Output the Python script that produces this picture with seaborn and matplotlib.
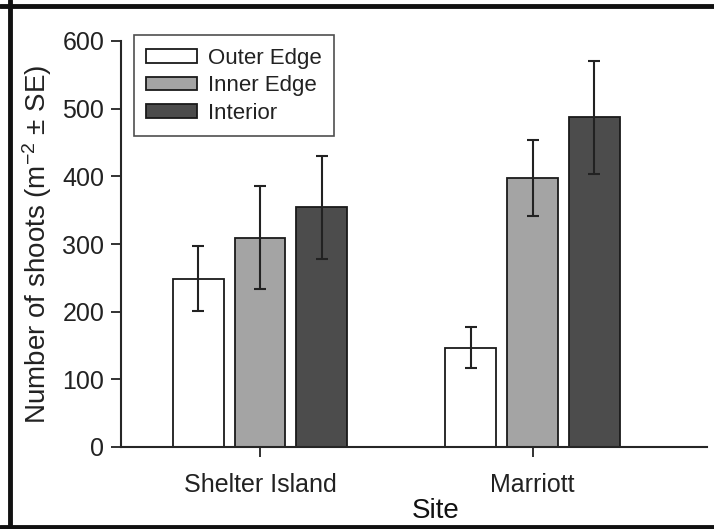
import numpy as np
import pandas as pd

import matplotlib
matplotlib.use('Agg')
import matplotlib.pyplot as plt
import seaborn as sns
from matplotlib.patches import Patch

sites = ['Shelter Island', 'Marriott']
zones = ['Outer Edge', 'Inner Edge', 'Interior']

outer_edge = [249, 147]
inner_edge = [309, 398]
interior = [354, 487]

outer_se = [48, 30]
inner_se = [76, 56]
interior_se = [76, 83]

zone_colors = ['#ffffff', '#a4a4a4', '#4c4c4c']

sns.set_style('ticks')
plt.rcParams['font.family'] = ['Liberation Sans', 'DejaVu Sans']
plt.rcParams['mathtext.fontset'] = 'custom'
plt.rcParams['mathtext.rm'] = 'Liberation Sans'
plt.rcParams['mathtext.it'] = 'Liberation Sans'

rows = []
for i, site in enumerate(sites):
	for zone, vals, ses in zip(zones, [outer_edge, inner_edge, interior], [outer_se, inner_se, interior_se]):
		rows.append([site, zone, vals[i], ses[i]])
df = pd.DataFrame(rows, columns=['Site', 'Zone', 'Shoots', 'SE'])

fig = plt.figure(figsize=(7.14, 5.29), dpi=100)
ax = fig.add_axes([121/714, (529-447)/529, (707-121)/714, (447-41)/529])

sns.barplot(
	data=df, x='Site', y='Shoots', hue='Zone',
	order=sites, hue_order=zones,
	palette=zone_colors, width=0.68, gap=0.18,
	edgecolor='#1a1a1a', linewidth=1.3,
	errorbar=None, legend=False, ax=ax,
)

# error bars on top of each bar
for zone, container in zip(zones, ax.containers):
	sub = df[df['Zone'] == zone].set_index('Site').loc[sites]
	xs = [b.get_x() + b.get_width() / 2 for b in container]
	ax.errorbar(xs, sub['Shoots'], yerr=sub['SE'], fmt='none',
		ecolor='#222222', elinewidth=1.5, capsize=4.5, capthick=1.5, zorder=5)

ax.set_ylim(0, 600)
ax.set_xlim(-0.51, 1.64)
ax.set_yticks(np.arange(0, 601, 100))
ax.tick_params(axis='both', labelsize=18, colors='#222222', length=7, width=1.3)
ax.tick_params(axis='x', pad=12)
ax.tick_params(axis='y', pad=5)
for lab in ax.get_xticklabels() + ax.get_yticklabels():
	lab.set_color('#222222')

ax.set_xlabel('Site', fontsize=20, color='#111111')
ax.xaxis.set_label_coords(0.5375, -0.125)
ax.set_ylabel(r'Number of shoots (m$^{-2}$ $\pm$ SE)', fontsize=20, color='#222222', labelpad=6)

sns.despine(ax=ax)
ax.spines['left'].set_linewidth(1.5)
ax.spines['bottom'].set_linewidth(1.5)

handles = [Patch(facecolor=c, edgecolor='#1a1a1a', linewidth=1.3) for c in zone_colors]
leg = ax.legend(handles, zones, loc='upper left', bbox_to_anchor=(0.01, 1.03),
	fontsize=16, frameon=True, fancybox=False, edgecolor='#222222',
	handlelength=2.3, handleheight=0.55, handletextpad=0.5, labelspacing=0.3,
	borderpad=0.55, borderaxespad=0.3)
leg.get_frame().set_linewidth(1.2)
for t in leg.get_texts():
	t.set_color('#222222')

# outer frame of the figure
fig.add_artist(plt.Line2D([10/714, 10/714], [0, 1], transform=fig.transFigure, color='#111111', lw=3.5))
fig.add_artist(plt.Line2D([0, 1], [1 - 6/529, 1 - 6/529], transform=fig.transFigure, color='#111111', lw=3.5))
fig.add_artist(plt.Line2D([0, 1], [2/529, 2/529], transform=fig.transFigure, color='#111111', lw=3.5))

fig.savefig('out.png', dpi=100)
